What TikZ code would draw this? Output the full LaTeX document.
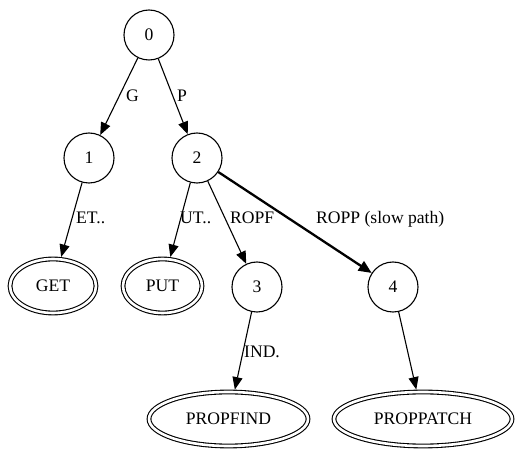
\documentclass[tikz,border=0pt]{standalone}
\usepackage{fontspec}
\setmainfont{Liberation Serif}
\usetikzlibrary{arrows.meta,shapes.geometric}
\begin{document}
\begin{tikzpicture}[x=1pt,y=-1pt,
  font=\fontsize{17.6}{20}\selectfont,
  state/.style={circle,draw,line width=1.1pt,minimum size=50pt,inner sep=0pt},
  final/.style={ellipse,draw,line width=1.1pt,double,double distance=2.6pt,
     inner sep=0pt,minimum height=54pt,outer sep=2.5pt},
  edge/.style={draw,line width=1.1pt,-{Triangle[length=12.5pt,width=10pt]}},
  thick edge/.style={draw,line width=2.3pt,-{Triangle[length=13pt,width=11pt]}},
  lbl/.style={anchor=base west,inner sep=0pt}]
\useasboundingbox (0,0) rectangle (515,449);
\node[state] (n0) at (149,35) {0};
\node[state] (n1) at (89,158) {1};
\node[state] (n2) at (197,158) {2};
\node[state] (n3) at (257,287) {3};
\node[state] (n4) at (393,287) {4};
\node[final,minimum width=86pt] (get) at (53,286) {GET};
\node[final,minimum width=79pt] (put) at (162.5,286) {PUT};
\node[final,minimum width=159pt] (pfind) at (228.5,419) {PROPFIND};
\node[final,minimum width=178pt] (ppatch) at (423,419) {PROPPATCH};
\path[edge] (n0) -- (n1);
\path[edge] (n0) -- (n2);
\path[edge] (n1) -- (get);
\path[edge] (n2) -- (put);
\path[edge] (n2) -- (n3);
\path[thick edge] (n2) -- (n4);
\path[edge] (n3) -- (pfind);
\path[edge] (n4) -- (ppatch);
\node[lbl] (lg) at (126,102) {G};
\node[lbl] (lp) at (177,102) {P};
\node[lbl] (let) at (76,224) {ET..};
\node[lbl] (lut) at (180,224) {UT..};
\node[lbl] (lropf) at (230,224) {ROPF};
\node[lbl] (lropp) at (316,224) {ROPP (slow path)};
\node[lbl] (lind) at (244,358) {IND.};
\end{tikzpicture}
\end{document}
